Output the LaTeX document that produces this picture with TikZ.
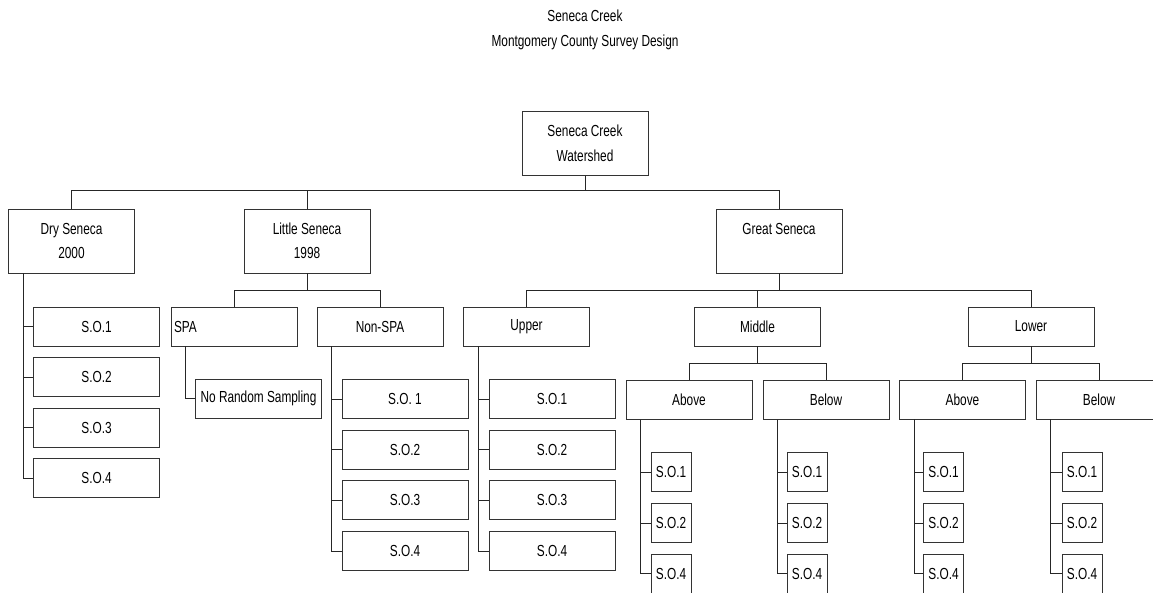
\documentclass[tikz,border=0pt]{standalone}
\usepackage{fontspec}
\setmainfont{Liberation Sans}[FakeStretch=0.74]
\usetikzlibrary{positioning}

\tikzset{
	box/.style={draw=black!80, line width=0.9pt, minimum width=126, minimum height=39, inner sep=0pt, align=center},
	bigbox/.style={box, minimum height=64},
	sobox/.style={box, minimum width=40},
	link/.style={draw=black!85, line width=0.9pt}
}

\begin{document}
\begin{tikzpicture}[x=1pt, y=-1pt, font=\fontsize{16}{24.5}\selectfont]
			\fill[white] (0,0) rectangle (1153,593);
			\useasboundingbox (0,0) rectangle (1153,593);
			
			\node[align=center] (title) at (585,30) {Seneca Creek\\Montgomery County Survey Design};
			
			\node[bigbox] (root) at (585,143.5) {Seneca Creek\\Watershed};
			\node[bigbox] (dry) at (71.5,241) {Dry Seneca\\2000};
			\node[bigbox] (little) at (307,241) {Little Seneca\\1998};
			\node[bigbox] (great) at (779,241) {Great Seneca\\~};
			
			\node[box, text width=120, inner xsep=3pt, align=left] (spa) at (234,326.5) {SPA};
			\node[box] (nonspa) at (380,326.5) {Non-SPA};
			\node[box] (upper) at (526.5,326.5) {Upper};
			\node[box] (middle) at (757.5,326.5) {Middle};
			\node[box] (lower) at (1031,326.5) {Lower};
			
			\node[box] (nrs) at (258.5,398.5) {No Random Sampling};
			\node[box] (mabove) at (689,400) {Above};
			\node[box] (mbelow) at (826,400) {Below};
			\node[box] (labove) at (962.5,399.5) {Above};
			\node[box] (lbelow) at (1099,399.5) {Below};
			
			\foreach \i in {1,...,4}
				\node[box] (dso\i) at (96.5,{276+50.5*\i}) {S.O.\i};
			\foreach \i/\t in {1/{S.O. 1},2/S.O.2,3/S.O.3,4/S.O.4}
				\node[box] (nso\i) at (405,{348.3+50.7*\i}) {\t};
			\foreach \i in {1,...,4}
				\node[box] (uso\i) at (552,{348.3+50.7*\i}) {S.O.\i};
			\foreach \i/\t in {1/1,2/2,3/4} {
				\node[sobox] (maso\i) at (671,{421.5+50.75*\i}) {S.O.\t};
				\node[sobox] (mbso\i) at (807,{421.5+50.75*\i}) {S.O.\t};
				\node[sobox] (laso\i) at (943.5,{421.5+50.75*\i}) {S.O.\t};
				\node[sobox] (lbso\i) at (1082,{421.5+50.75*\i}) {S.O.\t};
			}
			
			\foreach \c in {dry,little,great}
				\draw[link] (root.south) -- ++(0,15) -| (\c.north);
			\foreach \c in {spa,nonspa}
				\draw[link] (little.south) -- ++(0,17) -| (\c.north);
			\foreach \c in {upper,middle,lower}
				\draw[link] (great.south) -- ++(0,17) -| (\c.north);
			\foreach \c in {mabove,mbelow}
				\draw[link] (middle.south) -- ++(0,17) -| (\c.north);
			\foreach \c in {labove,lbelow}
				\draw[link] (lower.south) -- ++(0,17) -| (\c.north);
			
			\draw[link] (spa.south west) ++(15,0) |- (nrs.west);
			\foreach \i in {1,...,4} {
				\draw[link] (dry.south west) ++(15,0) |- (dso\i.west);
				\draw[link] (nonspa.south west) ++(15,0) |- (nso\i.west);
				\draw[link] (upper.south west) ++(15,0) |- (uso\i.west);
			}
			\foreach \i in {1,2,3} {
				\draw[link] (mabove.south west) ++(15,0) |- (maso\i.west);
				\draw[link] (mbelow.south west) ++(15,0) |- (mbso\i.west);
				\draw[link] (labove.south west) ++(15,0) |- (laso\i.west);
				\draw[link] (lbelow.south west) ++(15,0) |- (lbso\i.west);
			}
\end{tikzpicture}
\end{document}
